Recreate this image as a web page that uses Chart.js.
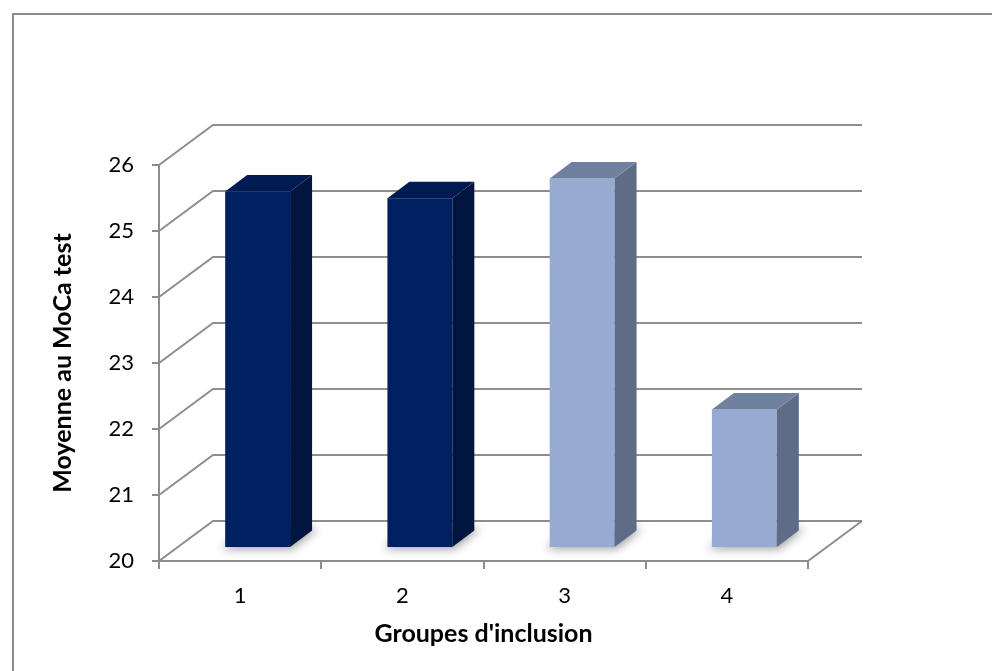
<!DOCTYPE html>
<html>
<head>
<meta charset="utf-8">
<script src="https://cdn.jsdelivr.net/npm/chart.js@4.4.1/dist/chart.umd.min.js"></script>
<style>
  html, body { margin: 0; padding: 0; background: #ffffff; }
  #wrap { width: 992px; height: 671px; }
</style>
</head>
<body>
<div id="wrap"><canvas id="moca" width="992" height="671"></canvas></div>
<script>
// Groups and their mean MoCa scores
const groupLabels = ['1', '2', '3', '4'];
const mocaMeans = [25.4, 25.3, 25.6, 22.1];
const yMin = 20;
const yMax = 26;

// Face colours for each bar: front, right side, top
const frontColors = ['#012061', '#012061', '#96aad2', '#96aad2'];
const sideColors  = ['#00163f', '#00163f', '#5e6c88', '#5e6c88'];
const topColors   = ['#001b52', '#001b52', '#70819f', '#70819f'];

// Pseudo-3D geometry (pixels)
const WALL_DX = 54, WALL_DY = -40;     // depth of the back wall
const BAR_DX = 17.5, BAR_DY = -13;     // front plane of the bars
const DEPTH_DX = 22, DEPTH_DY = -16.5; // thickness of each bar
const GRID = '#8d8d8d';

const box3d = {
  id: 'box3d',
  beforeDraw(chart) {
    const ctx = chart.ctx;
    ctx.save();
    ctx.strokeStyle = '#8a8a8a';
    ctx.lineWidth = 2;
    ctx.strokeRect(13, 14, 1010, 700);
    ctx.restore();
  },
  beforeDatasetsDraw(chart) {
    const ctx = chart.ctx;
    const ya = chart.scales.y;
    const { left, right, bottom } = chart.chartArea;
    ctx.save();
    ctx.strokeStyle = GRID;
    ctx.lineWidth = 2;
    ya.ticks.forEach(t => {
      const y = ya.getPixelForValue(t.value);
      ctx.beginPath();
      ctx.moveTo(left, y);
      ctx.lineTo(left + WALL_DX, y + WALL_DY);
      ctx.lineTo(right + WALL_DX, y + WALL_DY);
      ctx.stroke();
    });
    // right edge of the floor
    ctx.beginPath();
    ctx.moveTo(right, bottom);
    ctx.lineTo(right + WALL_DX, bottom + WALL_DY);
    ctx.stroke();
    ctx.restore();

    // bars sit in a plane set back from the axes
    ctx.save();
    ctx.translate(BAR_DX, BAR_DY);
    const meta = chart.getDatasetMeta(0);
    meta.data.forEach(bar => {
      const { x, base, width } = bar.getProps(['x', 'base', 'width'], true);
      const l = x - width / 2, r = x + width / 2;
      ctx.save();
      ctx.filter = 'blur(5px)';
      ctx.fillStyle = 'rgba(0,0,0,0.38)';
      ctx.beginPath();
      ctx.moveTo(l - 4, base + 2);
      ctx.lineTo(r + 2, base + 2);
      ctx.lineTo(r + DEPTH_DX + 6, base + DEPTH_DY - 2);
      ctx.lineTo(l + DEPTH_DX, base + DEPTH_DY - 2);
      ctx.closePath();
      ctx.fill();
      ctx.restore();
    });
  },
  afterDatasetsDraw(chart) {
    const ctx = chart.ctx;
    const meta = chart.getDatasetMeta(0);
    meta.data.forEach((bar, i) => {
      const { x, y, base, width } = bar.getProps(['x', 'y', 'base', 'width'], true);
      const l = x - width / 2, r = x + width / 2;
      // right side
      ctx.fillStyle = sideColors[i];
      ctx.beginPath();
      ctx.moveTo(r, y);
      ctx.lineTo(r + DEPTH_DX, y + DEPTH_DY);
      ctx.lineTo(r + DEPTH_DX, base + DEPTH_DY);
      ctx.lineTo(r, base);
      ctx.closePath();
      ctx.fill();
      // top
      ctx.fillStyle = topColors[i];
      ctx.beginPath();
      ctx.moveTo(l, y);
      ctx.lineTo(l + DEPTH_DX, y + DEPTH_DY);
      ctx.lineTo(r + DEPTH_DX, y + DEPTH_DY);
      ctx.lineTo(r, y);
      ctx.closePath();
      ctx.fill();
    });
    ctx.restore();
  }
};

const PAD = { left: 40, right: 184, top: 165, bottom: 20 };

new Chart(document.getElementById('moca'), {
  type: 'bar',
  data: {
    labels: groupLabels,
    datasets: [{
      data: mocaMeans,
      base: yMin,
      backgroundColor: frontColors,
      borderWidth: 0,
      categoryPercentage: 1,
      barPercentage: 0.4,
      clip: false
    }]
  },
  options: {
    responsive: false,
    animation: false,
    events: [],
    layout: { padding: PAD },
    plugins: { legend: { display: false }, tooltip: { enabled: false } },
    scales: {
      x: {
        afterFit(scale) { scale.height = 671 - PAD.bottom - 561; },
        grid: { offset: true, drawOnChartArea: false, tickLength: 8, color: GRID, lineWidth: 2 },
        border: { display: true, color: GRID, width: 2 },
        ticks: { color: '#000000', padding: 14, font: { family: 'Lato', size: 22 } },
        title: {
          display: true,
          text: "Groupes d'inclusion",
          color: '#000000',
          padding: { top: 0, bottom: 2 },
          font: { family: 'Lato', size: 25, weight: 'bold' }
        }
      },
      y: {
        min: yMin,
        max: yMax,
        afterFit(scale) { scale.width = 159 - PAD.left; },
        grid: { drawOnChartArea: false, tickLength: 7, color: GRID, lineWidth: 2 },
        border: { display: true, color: GRID, width: 2 },
        ticks: { stepSize: 1, color: '#000000', padding: 18, font: { family: 'Lato', size: 22 } },
        title: {
          display: true,
          text: 'Moyenne au MoCa test',
          color: '#000000',
          padding: { top: 8, bottom: 0 },
          font: { family: 'Lato', size: 25, weight: 'bold' }
        }
      }
    }
  },
  plugins: [box3d]
});
</script>
</body>
</html>
